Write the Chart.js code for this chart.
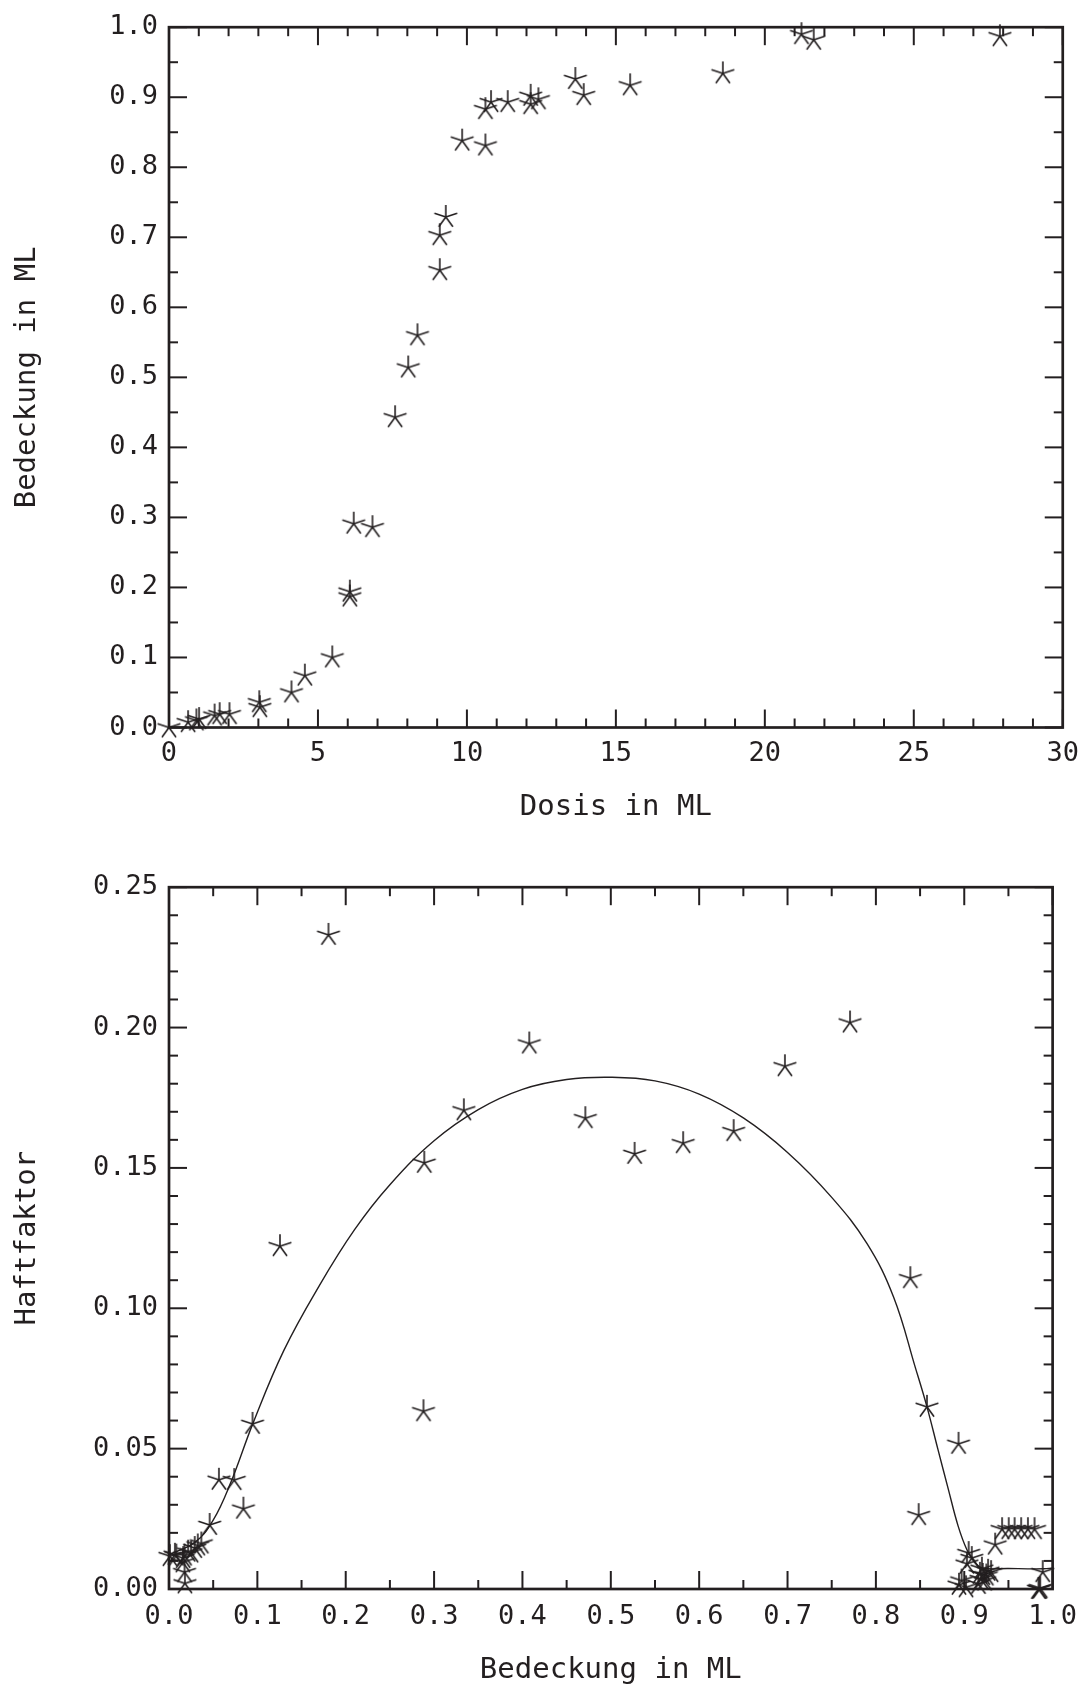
<!DOCTYPE html>
<html>
<head>
<meta charset="utf-8">
<script src="https://cdn.jsdelivr.net/npm/chart.js@4/dist/chart.umd.min.js"></script>
<style>
  html, body { margin: 0; padding: 0; background: #fff; }
  #wrap { position: relative; width: 1089px; height: 1688px; }
  canvas { position: absolute; left: 0; }
  #c1 { top: 0; }
  #c2 { top: 860px; }
</style>
</head>
<body>
<div id="wrap">
  <canvas id="c1" width="1089" height="860"></canvas>
  <canvas id="c2" width="1089" height="828"></canvas>
</div>
<script>
// ---------- data: top chart (Bedeckung vs. Dosis) ----------
const dosis = [0.0, 0.64, 0.92, 1.01, 1.53, 1.70, 2.03, 3.03, 3.05, 4.11, 4.56, 5.48,
  6.07, 6.07, 6.20, 6.83, 7.59, 8.03, 8.34, 9.09, 9.09, 9.29, 9.84, 10.62, 10.62,
  10.81, 11.37, 12.14, 12.14, 12.40, 13.64, 13.92, 15.48, 18.59, 21.23, 21.64, 27.89];
const bedeckungDosis = [0.0, 0.0075, 0.010, 0.012, 0.017, 0.019, 0.019, 0.036, 0.029, 0.050, 0.074, 0.100,
  0.194, 0.187, 0.291, 0.286, 0.443, 0.514, 0.560, 0.653, 0.703, 0.729, 0.838, 0.831, 0.883,
  0.893, 0.893, 0.902, 0.890, 0.897, 0.926, 0.903, 0.917, 0.934, 0.990, 0.982, 0.987];

// ---------- data: bottom chart (Haftfaktor vs. Bedeckung) ----------
const bedeckung = [0.001, 0.0067, 0.0083, 0.016, 0.0157, 0.0176, 0.018, 0.0176, 0.0217, 0.025,
  0.0291, 0.0326, 0.0366, 0.046, 0.0565, 0.0738, 0.0842, 0.0945, 0.1256, 0.1805,
  0.2880, 0.2889, 0.3337, 0.4077, 0.4712, 0.5269, 0.5819, 0.6390, 0.6970, 0.7707,
  0.8390, 0.8484, 0.8578, 0.8935,
  0.894, 0.897, 0.902, 0.903, 0.905, 0.9085, 0.916, 0.9177, 0.919, 0.921, 0.923, 0.925, 0.927, 0.9304, 0.920,
  0.935, 0.9428, 0.9503, 0.957, 0.9644, 0.972, 0.9795, 0.9888, 0.984, 0.986, 0.985];
const haftfaktor = [0.0117, 0.0122, 0.0119, 0.011, 0.0095, 0.006, 0.002, 0.0119, 0.0133, 0.013,
  0.0146, 0.0155, 0.0162, 0.0228, 0.0389, 0.0388, 0.0286, 0.0588, 0.1221, 0.2330,
  0.0633, 0.1518, 0.1705, 0.1943, 0.1677, 0.1550, 0.1588, 0.1631, 0.1862, 0.2018,
  0.1107, 0.0263, 0.0649, 0.0517,
  0.0015, 0.003, 0.0006, 0.009, 0.0128, 0.011, 0.0018, 0.0054, 0.0035, 0.005, 0.003, 0.0048, 0.0065, 0.006, 0.0072,
  0.0158, 0.0213, 0.0213, 0.0213, 0.0213, 0.0213, 0.0213, 0.006, 0.0, 0.0003, 0.0];

// fitted curve
const fitX = [0.0, 0.03, 0.05, 0.07, 0.095, 0.13, 0.17, 0.21, 0.25, 0.30, 0.35, 0.40, 0.45, 0.50,
  0.55, 0.60, 0.65, 0.70, 0.75, 0.79, 0.82, 0.845, 0.8578, 0.87, 0.882, 0.893, 0.903, 0.912,
  0.920, 0.950, 0.990, 1.0];
const fitY = [0.0122, 0.0168, 0.0245, 0.038, 0.059, 0.085, 0.108, 0.128, 0.144, 0.1597, 0.1708, 0.1780, 0.1815, 0.1823,
  0.1810, 0.1763, 0.1678, 0.1555, 0.1395, 0.1230, 0.1040, 0.0785, 0.0649, 0.0500, 0.0355, 0.0225, 0.0140, 0.0095,
  0.0075, 0.0073, 0.0072, 0.0075];

// ---------- styling ----------
const INK = '#231f20';
const FONT = "'DejaVu Sans Mono', 'Liberation Mono', monospace";

function makeStar(r, lw) {
  const s = Math.ceil(2 * r + 4);
  const c = document.createElement('canvas');
  c.width = s; c.height = s;
  const g = c.getContext('2d');
  g.strokeStyle = INK; g.lineWidth = lw;
  const cx = s / 2, cy = s / 2;
  g.beginPath();
  for (let k = 0; k < 5; k++) {
    const a = -Math.PI / 2 + k * 2 * Math.PI / 5;
    g.moveTo(cx, cy);
    g.lineTo(cx + r * Math.cos(a), cy + r * Math.sin(a));
  }
  g.stroke();
  return c;
}
const STAR = makeStar(12, 1.6);

function frameTicksPlugin(xMinor, xMajor, yMinor, yMajor) {
  return {
    id: 'frameTicks',
    beforeDatasetsDraw(chart) {
      const { ctx, chartArea: a, scales: { x, y } } = chart;
      ctx.save();
      ctx.strokeStyle = INK;
      ctx.lineWidth = 2;
      const seg = (x1, y1, x2, y2) => { ctx.beginPath(); ctx.moveTo(x1, y1); ctx.lineTo(x2, y2); ctx.stroke(); };
      const nx = Math.round((x.max - x.min) / xMinor);
      for (let i = 0; i <= nx; i++) {
        const v = x.min + i * xMinor;
        const major = Math.abs(v / xMajor - Math.round(v / xMajor)) < 1e-6;
        const len = major ? 18 : 9;
        const px = x.getPixelForValue(v);
        seg(px, a.bottom, px, a.bottom - len);
        seg(px, a.top, px, a.top + len);
      }
      const ny = Math.round((y.max - y.min) / yMinor);
      for (let i = 0; i <= ny; i++) {
        const v = y.min + i * yMinor;
        const major = Math.abs(v / yMajor - Math.round(v / yMajor)) < 1e-6;
        const len = major ? 18 : 9;
        const py = y.getPixelForValue(v);
        seg(a.left, py, a.left + len, py);
        seg(a.right, py, a.right - len, py);
      }
      ctx.lineWidth = 2.7;
      ctx.strokeRect(a.left, a.top, a.right - a.left, a.bottom - a.top);
      ctx.restore();
    }
  };
}

function axes(cfg) {
  return {
    x: {
      type: 'linear', min: cfg.xMin, max: cfg.xMax,
      grid: { display: false, drawTicks: false }, border: { display: false },
      ticks: { stepSize: cfg.xStep, padding: cfg.xTickPad, color: INK,
        font: { family: FONT, size: 27 }, maxRotation: 0,
        callback: v => Number(v).toFixed(cfg.xDec) },
      title: { display: true, text: cfg.xTitle, color: INK,
        font: { family: FONT, size: 29 }, padding: { top: 0, bottom: cfg.xTitlePad } },
      afterFit: s => { s.height = cfg.xHeight; }
    },
    y: {
      type: 'linear', min: cfg.yMin, max: cfg.yMax,
      grid: { display: false, drawTicks: false }, border: { display: false },
      ticks: { stepSize: cfg.yStep, padding: 11, color: INK,
        font: { family: FONT, size: 27 },
        callback: v => Number(v).toFixed(cfg.yDec) },
      title: { display: true, text: cfg.yTitle, color: INK,
        font: { family: FONT, size: 29 }, padding: { top: 10, bottom: 0 } },
      afterFit: s => { s.width = 169; }
    }
  };
}

const common = {
  responsive: false, animation: false, devicePixelRatio: 1,
  plugins: { legend: { display: false }, tooltip: { enabled: false } }
};

new Chart(document.getElementById('c1'), {
  type: 'scatter',
  data: { datasets: [{
    data: dosis.map((v, i) => ({ x: v, y: bedeckungDosis[i] })),
    pointStyle: STAR, showLine: false, clip: false
  }] },
  options: Object.assign({}, common, {
    layout: { padding: { top: 21, right: 20, left: 0, bottom: 0 } },
    scales: axes({ xMin: 0, xMax: 30, xStep: 5, xDec: 0, xTitle: 'Dosis in ML', xHeight: 132.5,
      xTickPad: 10, xTitlePad: 35,
      yMin: 0, yMax: 1, yStep: 0.1, yDec: 1, yTitle: 'Bedeckung in ML' })
  }),
  plugins: [frameTicksPlugin(1, 5, 0.05, 0.1)]
});

new Chart(document.getElementById('c2'), {
  type: 'scatter',
  data: { datasets: [
    {
      data: bedeckung.map((v, i) => ({ x: v, y: haftfaktor[i] })),
      pointStyle: STAR, showLine: false, clip: false
    },
    {
      type: 'line',
      data: fitX.map((v, i) => ({ x: v, y: fitY[i] })),
      borderColor: INK, borderWidth: 1.4, pointRadius: 0,
      tension: 0.4, fill: false
    }
  ] },
  options: Object.assign({}, common, {
    layout: { padding: { top: 23, right: 29, left: 0, bottom: 0 } },
    scales: axes({ xMin: 0, xMax: 1, xStep: 0.1, xDec: 1, xTitle: 'Bedeckung in ML', xHeight: 99,
      xTickPad: 12, xTitlePad: 0,
      yMin: 0, yMax: 0.25, yStep: 0.05, yDec: 2, yTitle: 'Haftfaktor' })
  }),
  plugins: [frameTicksPlugin(0.05, 0.1, 0.01, 0.05)]
});
</script>
</body>
</html>
